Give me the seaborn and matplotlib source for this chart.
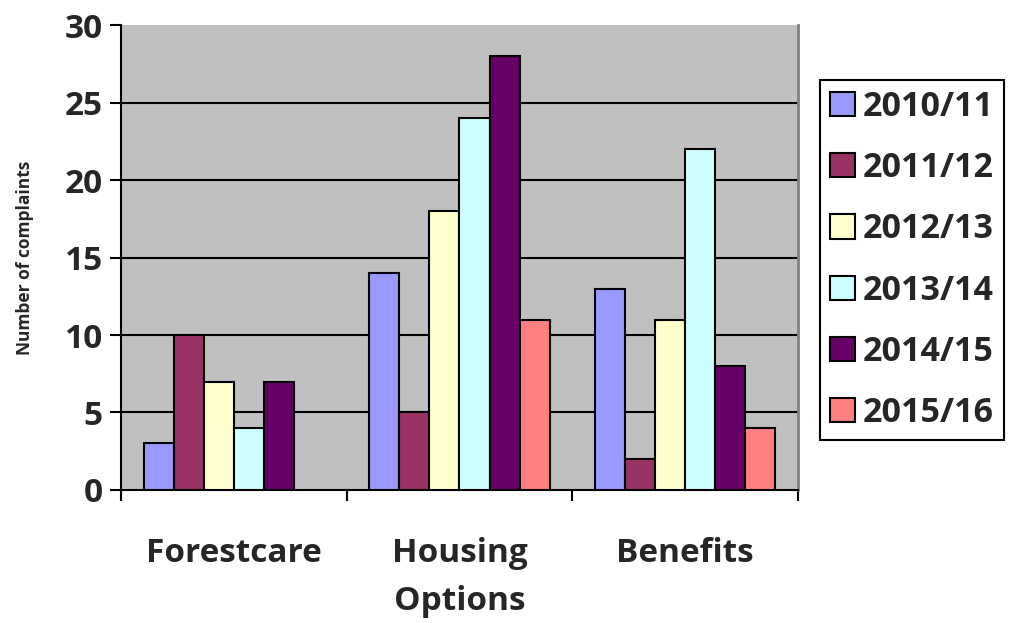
import numpy as np
import pandas as pd
import seaborn as sns
import matplotlib.pyplot as plt
from matplotlib.ticker import FixedLocator

# Veriler
kategoriler = ["Forestcare", "Housing\nOptions", "Benefits"]
yillar = ["2010/11", "2011/12", "2012/13", "2013/14", "2014/15", "2015/16"]
forestcare = [3, 10, 7, 4, 7, np.nan]
housing = [14, 5, 18, 24, 28, 11]
benefits = [13, 2, 11, 22, 8, 4]
renkler = ["#9999FF", "#993366", "#FFFFCC", "#CCFFFF", "#660066", "#FF8080"]

rows = []
for kat, degerler in zip(kategoriler, [forestcare, housing, benefits]):
    for yil, d in zip(yillar, degerler):
        rows.append({"kategori": kat, "yil": yil, "sikayet": d})
veri = pd.DataFrame(rows)

sns.set_style("white")
plt.rcParams["font.family"] = ["Open Sans", "DejaVu Sans"]

fig = plt.figure(figsize=(10.11, 6.23), dpi=100)
ax = fig.add_axes([0.1197, 0.2135, 0.6696, 0.7463])
ax.set_facecolor("#C0C0C0")

sns.barplot(data=veri, x="kategori", y="sikayet", hue="yil", order=kategoriler,
            hue_order=yillar, palette=renkler, saturation=1, errorbar=None,
            edgecolor="black", linewidth=1.5, width=0.8, ax=ax, zorder=3)

ax.set_ylim(0, 30)
ax.set_xlim(-0.5, 2.5)
ax.set_yticks(range(0, 31, 5))
for y in range(5, 30, 5):
    ax.axhline(y, color="black", linewidth=1.5, zorder=1)

ax.tick_params(axis="y", which="major", direction="out", length=8, width=1.5,
               color="black", labelsize=24, pad=5, left=True)
ax.tick_params(axis="x", which="major", length=0, labelsize=24, pad=34)
ax.xaxis.set_minor_locator(FixedLocator([-0.5, 0.5, 1.5, 2.5]))
ax.tick_params(axis="x", which="minor", direction="out", length=8, width=1.5,
               color="black", bottom=True)
for lab in ax.get_xticklabels() + ax.get_yticklabels():
    lab.set_fontweight("bold")
for lab in ax.get_xticklabels():
    lab.set_verticalalignment("top")
    lab.set_linespacing(1.6)

ax.set_xlabel("")
ax.set_ylabel("Number of complaints", fontsize=12.5, fontweight="bold", labelpad=22)

ax.spines["top"].set_visible(False)
ax.spines["right"].set_color("#808080")
ax.spines["right"].set_linewidth(2)
ax.spines["left"].set_color("black")
ax.spines["left"].set_linewidth(1.5)
ax.spines["bottom"].set_color("black")
ax.spines["bottom"].set_linewidth(1.5)

ax.legend_.remove()
handles, labels = ax.get_legend_handles_labels()
leg = fig.legend(handles, labels, loc="upper left", bbox_to_anchor=(0.811, 0.872),
                 bbox_transform=fig.transFigure, borderaxespad=0, frameon=True,
                 fancybox=False, edgecolor="black", framealpha=1,
                 prop={"weight": "bold", "size": 24.5}, labelspacing=0.8,
                 handlelength=0.72, handleheight=0.72, handletextpad=0.25,
                 borderpad=0.3)
leg.get_frame().set_linewidth(1.5)

plt.savefig("out.png", dpi=100)
